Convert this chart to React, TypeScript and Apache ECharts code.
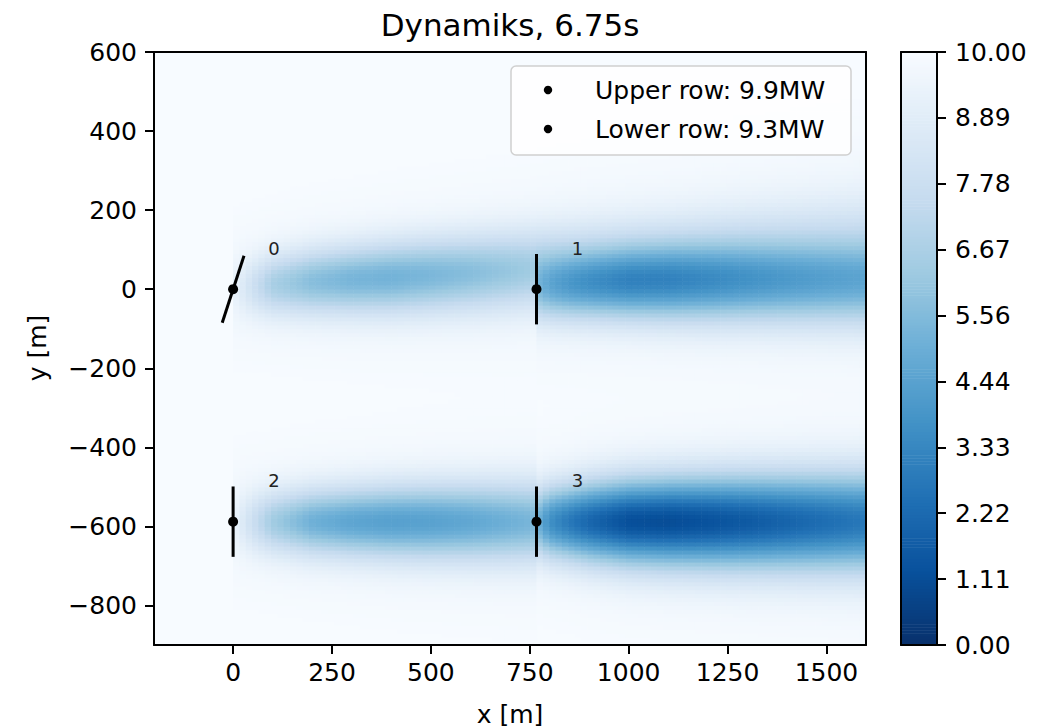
import React, { useEffect, useRef } from "react";
import * as echarts from "echarts";

// ---------- text & axes ----------
const TITLE = "Dynamiks, 6.75s";
const X_LABEL = "x [m]";
const Y_LABEL = "y [m]";
const X_MIN = -200;
const X_MAX = 1600;
const Y_MIN = -900;
const Y_MAX = 600;
const X_TICKS = [0, 250, 500, 750, 1000, 1250, 1500];
const Y_TICKS = [-800, -600, -400, -200, 0, 200, 400, 600];
const V_MIN = 0;
const V_MAX = 10;
const CBAR_TICK_COUNT = 10; // 0.00 ... 10.00
// matplotlib "Blues" reversed: 0 -> dark, 10 -> white
const BLUES_R = ["#08306b", "#08519c", "#2171b5", "#4292c6", "#6baed6", "#9ecae1", "#c6dbef", "#deebf7", "#f7fbff"];

// ---------- turbines ----------
const TURBINE_IDS = [0, 1, 2, 3];
const TURBINE_X = [0, 767, 0, 767];
const TURBINE_Y = [0, 0, -588, -588];
const TURBINE_YAW = [18, 0, 0, 0];
const ROTOR_D = 178;

// ---------- legend ----------
const LEGEND_LABELS = ["Upper row: 9.9MW", "Lower row: 9.3MW"];

// ---------- wakes (centre-line speed, centre y, width) ----------
const WAKE0_X = [0, 50, 100, 200, 300, 400, 500, 600, 700, 767, 900, 1100, 1300, 1600];
const WAKE0_SPEED = [9.4, 7.9, 6.6, 5.7, 5.3, 5.2, 5.4, 5.7, 6.1, 6.4, 7.0, 7.3, 7.5, 7.7];
const WAKE0_CENTER = [3, 8, 13, 20, 25, 30, 36, 42, 48, 53, 65, 80, 95, 115];
const WAKE0_SIGMA = [50, 52, 55, 59, 62, 65, 67, 69, 71, 72, 75, 78, 82, 88];

const WAKE1_X = [767, 800, 850, 900, 1000, 1100, 1200, 1300, 1400, 1500, 1600];
const WAKE1_SPEED = [6.4, 5.4, 4.6, 4.1, 3.5, 3.45, 3.7, 4.0, 4.3, 4.55, 4.75];
const WAKE1_CENTER = [0, 5, 10, 14, 18, 20, 21, 22, 22, 22, 22];
const WAKE1_SIGMA = [58, 60, 62, 64, 67, 70, 72, 74, 76, 78, 80];

const WAKE2_X = [0, 50, 100, 200, 300, 400, 500, 600, 700, 767];
const WAKE2_SPEED = [9.4, 7.8, 6.4, 5.1, 4.6, 4.4, 4.45, 4.7, 5.1, 5.4];
const WAKE2_CENTER = [-588, -588, -588, -588, -588, -588, -588, -588, -588, -588];
const WAKE2_SIGMA = [52, 54, 56, 60, 63, 66, 68, 70, 72, 73];

const WAKE3_X = [767, 800, 850, 900, 1000, 1100, 1200, 1300, 1400, 1500, 1600];
const WAKE3_SPEED = [5.2, 3.7, 2.8, 2.1, 1.2, 1.1, 1.3, 1.6, 2.0, 2.4, 2.8];
const WAKE3_CENTER = [-588, -588, -588, -588, -588, -588, -588, -588, -588, -588, -588];
const WAKE3_SIGMA = [62, 65, 68, 72, 77, 80, 82, 84, 86, 88, 90];

const HALO = 0.3;
const FONT = "DejaVu Sans";

const WAKES = [
  { x: WAKE0_X, speed: WAKE0_SPEED, center: WAKE0_CENTER, sigma: WAKE0_SIGMA },
  { x: WAKE1_X, speed: WAKE1_SPEED, center: WAKE1_CENTER, sigma: WAKE1_SIGMA },
  { x: WAKE2_X, speed: WAKE2_SPEED, center: WAKE2_CENTER, sigma: WAKE2_SIGMA },
  { x: WAKE3_X, speed: WAKE3_SPEED, center: WAKE3_CENTER, sigma: WAKE3_SIGMA },
];

function interp(xs: number[], ys: number[], x: number) {
  if (x <= xs[0]) return ys[0];
  for (let i = 1; i < xs.length; i++) {
    if (x <= xs[i]) {
      const t = (x - xs[i - 1]) / (xs[i] - xs[i - 1]);
      return ys[i - 1] + t * (ys[i] - ys[i - 1]);
    }
  }
  return ys[ys.length - 1];
}

function speedAt(x: number, y: number) {
  let sum = 0;
  for (const w of WAKES) {
    if (x < w.x[0] || x > w.x[w.x.length - 1]) continue;
    const a = V_MAX - interp(w.x, w.speed, x);
    const c = interp(w.x, w.center, x);
    const s = interp(w.x, w.sigma, x);
    const h = Math.min(HALO, a);
    const r2 = (y - c) * (y - c);
    const d = (a - h) * Math.exp(-r2 / (2 * s * s)) + h * Math.exp(-r2 / (2 * 2.2 * s * 2.2 * s));
    sum += d * d;
  }
  return Math.max(V_MIN, V_MAX - Math.sqrt(sum));
}

// field cells (grid resolution only)
function buildField() {
  const cols: [number, number][] = [];
  const seg = (a: number, b: number, n: number) => {
    for (let i = 0; i < n; i++) cols.push([a + ((b - a) * i) / n, a + ((b - a) * (i + 1)) / n]);
  };
  seg(TURBINE_X[0], TURBINE_X[1], 48);
  seg(TURBINE_X[1], X_MAX, 52);
  const dy = 10;
  const out: number[][] = [];
  for (const [x0, x1] of cols) {
    const xc = (x0 + x1) / 2;
    for (let y = Y_MIN + dy / 2; y < Y_MAX; y += dy) {
      const v = speedAt(xc, y);
      if (v < 9.95) out.push([xc, y, v, (x1 - x0) / 2, dy / 2]);
    }
  }
  return out;
}

function buildColorbar() {
  const out: number[][] = [];
  const step = 0.05;
  for (let v = V_MIN; v < V_MAX - 1e-9; v += step) out.push([0.5, v + step / 2, v + step / 2, step / 2]);
  return out;
}

const minusFmt = (v: number) => (v < 0 ? "\u2212" + Math.abs(v) : String(v));

function buildOption() {
  const fieldData = buildField();
  const cbData = buildColorbar();
  const cbTicks = Array.from({ length: CBAR_TICK_COUNT }, (_, i) => (i * (V_MAX - V_MIN)) / (CBAR_TICK_COUNT - 1));
  const turbineData = TURBINE_IDS.map((id, i) => [TURBINE_X[i], TURBINE_Y[i], TURBINE_YAW[i], id]);

  const lineStyle = { color: "#000", width: 2 };
  const labelStyle = { fontSize: 25, fontFamily: FONT, color: "#000" };
  const frameAxis = (extra: any) => ({
    type: "value",
    axisLine: { show: true, onZero: false, lineStyle },
    axisTick: { show: false },
    axisLabel: { show: false },
    splitLine: { show: false },
    z: 10,
    ...extra,
  });
  const noProgressive = { progressive: 0, progressiveThreshold: 1e9, large: false };
  const textStyle = (text: string, size: number, align: string) => ({
    text, fontSize: size, fontFamily: FONT, fill: "#000",
    align, verticalAlign: "middle", textAlign: align, textVerticalAlign: "middle",
  });

  const legendChildren: any[] = [
    { type: "rect", z: 30, shape: { x: 511, y: 66, width: 340, height: 89, r: 5 }, style: { fill: "rgba(255,255,255,0.8)", stroke: "#d0d0d0", lineWidth: 1.5 } },
  ];
  LEGEND_LABELS.forEach((label, i) => {
    legendChildren.push({ type: "circle", z: 31, shape: { cx: 548, cy: 90 + i * 39, r: 4.2 }, style: { fill: "#000" } });
    legendChildren.push({ type: "text", z: 31, x: 595, y: 90 + i * 39, style: textStyle(label, 25, "left") });
  });

  return {
    animation: false,
    backgroundColor: "#ffffff",
    grid: [
      { left: 154, top: 52, width: 712, height: 593, show: true, backgroundColor: "#f7fbff", borderWidth: 0 },
      { left: 901, top: 52, width: 36, height: 593, show: false },
    ],
    xAxis: [
      frameAxis({
        gridIndex: 0, min: X_MIN, max: X_MAX, position: "bottom",
        axisTick: { show: true, customValues: X_TICKS, length: 9, lineStyle },
        axisLabel: { show: true, customValues: X_TICKS, margin: 15, formatter: (v: number) => String(v), ...labelStyle },
      }),
      frameAxis({ gridIndex: 0, min: X_MIN, max: X_MAX, position: "top" }),
      frameAxis({ gridIndex: 1, min: 0, max: 1, position: "bottom" }),
      frameAxis({ gridIndex: 1, min: 0, max: 1, position: "top" }),
    ],
    yAxis: [
      frameAxis({
        gridIndex: 0, min: Y_MIN, max: Y_MAX, position: "left",
        axisTick: { show: true, customValues: Y_TICKS, length: 9, lineStyle },
        axisLabel: { show: true, customValues: Y_TICKS, margin: 17, formatter: minusFmt, ...labelStyle },
      }),
      frameAxis({ gridIndex: 0, min: Y_MIN, max: Y_MAX, position: "right" }),
      frameAxis({
        gridIndex: 1, min: V_MIN, max: V_MAX, position: "right",
        axisTick: { show: true, customValues: cbTicks, length: 9, lineStyle },
        axisLabel: { show: true, customValues: cbTicks, margin: 18, formatter: (v: number) => v.toFixed(2), ...labelStyle },
      }),
      frameAxis({ gridIndex: 1, min: V_MIN, max: V_MAX, position: "left" }),
    ],
    visualMap: {
      show: false,
      type: "continuous",
      min: V_MIN,
      max: V_MAX,
      dimension: 2,
      seriesIndex: [0, 2],
      inRange: { color: BLUES_R },
    },
    series: [
      {
        name: "wind speed",
        type: "custom",
        coordinateSystem: "cartesian2d",
        xAxisIndex: 0,
        yAxisIndex: 0,
        clip: true,
        silent: true,
        z: 1,
        ...noProgressive,
        encode: { x: 0, y: 1 },
        data: fieldData,
        renderItem: (params: any, api: any) => {
          const xc = api.value(0), yc = api.value(1), hw = api.value(3), hh = api.value(4);
          const p0 = api.coord([xc - hw, yc + hh]);
          const p1 = api.coord([xc + hw, yc - hh]);
          return {
            type: "rect",
            shape: { x: p0[0], y: p0[1], width: p1[0] - p0[0] + 0.6, height: p1[1] - p0[1] + 0.6 },
            style: { fill: api.visual("color") },
          };
        },
      },
      {
        name: "turbines",
        type: "custom",
        coordinateSystem: "cartesian2d",
        xAxisIndex: 0,
        yAxisIndex: 0,
        silent: true,
        z: 5,
        encode: { x: 0, y: 1 },
        data: turbineData,
        renderItem: (params: any, api: any) => {
          const x = api.value(0), y = api.value(1), yaw = (api.value(2) * Math.PI) / 180, id = api.value(3);
          const dx = (ROTOR_D / 2) * Math.sin(yaw);
          const dy = (ROTOR_D / 2) * Math.cos(yaw);
          const c = api.coord([x, y]);
          const a = api.coord([x + dx, y + dy]);
          const b = api.coord([x - dx, y - dy]);
          const t = api.coord([x + ROTOR_D / 2, y + ROTOR_D / 2]);
          return {
            type: "group",
            children: [
              { type: "line", shape: { x1: a[0], y1: a[1], x2: b[0], y2: b[1] }, style: { stroke: "#000", lineWidth: 3 } },
              { type: "circle", shape: { cx: c[0], cy: c[1], r: 5 }, style: { fill: "#000" } },
              {
                type: "text",
                x: t[0],
                y: t[1] + 3,
                style: {
                  text: String(id), fill: "#222", fontSize: 18, fontFamily: FONT,
                  align: "left", verticalAlign: "bottom", textAlign: "left", textVerticalAlign: "bottom",
                },
              },
            ],
          };
        },
      },
      {
        name: "colorbar",
        type: "custom",
        coordinateSystem: "cartesian2d",
        xAxisIndex: 2,
        yAxisIndex: 2,
        silent: true,
        z: 1,
        ...noProgressive,
        encode: { x: 0, y: 1 },
        data: cbData,
        renderItem: (params: any, api: any) => {
          const yc = api.value(1), hh = api.value(3);
          const p0 = api.coord([0, yc + hh]);
          const p1 = api.coord([1, yc - hh]);
          return {
            type: "rect",
            shape: { x: p0[0], y: p0[1], width: p1[0] - p0[0], height: p1[1] - p0[1] + 0.6 },
            style: { fill: api.visual("color") },
          };
        },
      },
    ],
    graphic: [
      { type: "text", x: 510, y: 25, z: 30, style: textStyle(TITLE, 31, "center") },
      { type: "text", x: 510, y: 714, z: 30, style: textStyle(X_LABEL, 25, "center") },
      { type: "text", x: 37, y: 348, rotation: Math.PI / 2, z: 30, style: textStyle(Y_LABEL, 25, "center") },
      ...legendChildren,
    ],
  };
}

export default function App() {
  const ref = useRef<HTMLDivElement>(null);
  useEffect(() => {
    document.body.style.margin = "0";
    const chart = echarts.init(ref.current as HTMLDivElement, null, { renderer: "svg" });
    chart.setOption(buildOption() as any);
    return () => chart.dispose();
  }, []);
  return <div ref={ref} style={{ width: 1058, height: 728 }} />;
}
